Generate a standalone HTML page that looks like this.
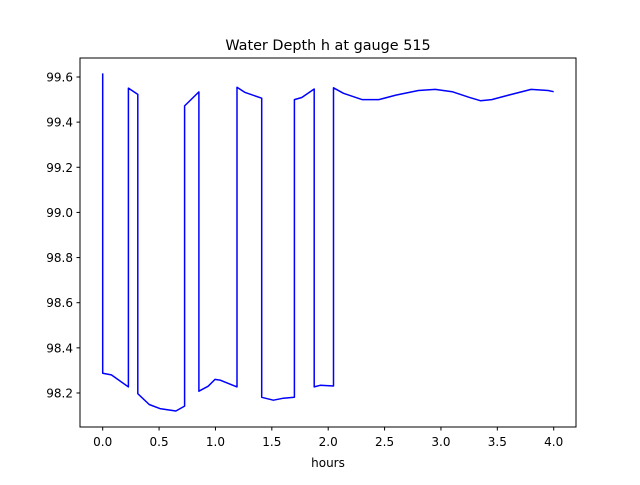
<!DOCTYPE html>
<html><head><meta charset="utf-8"><style>
body{margin:0;background:#fff;}
svg text{font-family:"DejaVu Sans","Liberation Sans",sans-serif;fill:#000;}
</style></head><body>
<svg id="chart" width="640" height="480" xmlns="http://www.w3.org/2000/svg">
<rect width="640" height="480" fill="#fff"/>
<text x="328" y="50" font-size="14.4" text-anchor="middle">Water Depth h at gauge 515</text>
<g id="xt"></g>
<g id="yt"></g>
<path id="line" fill="none" stroke="#0000ff" stroke-width="1.5" stroke-linejoin="round"/>
<rect x="80" y="58" width="496" height="369" fill="none" stroke="#000" stroke-width="1"/>
<text x="328" y="467" font-size="12" text-anchor="middle">hours</text>
</svg>
<script>
const xs=[0,0,0.077,0.228,0.228,0.311,0.311,0.412,0.507,0.649,0.726,0.726,0.853,0.853,0.936,0.996,1.040,1.191,1.191,1.259,1.410,1.410,1.514,1.603,1.700,1.700,1.766,1.876,1.876,1.929,2.047,2.047,2.136,2.3,2.45,2.6,2.8,2.95,3.1,3.25,3.35,3.45,3.6,3.8,3.95,4.0];
const ys=[99.616,98.287,98.280,98.227,99.551,99.523,98.197,98.149,98.131,98.120,98.142,99.472,99.534,98.208,98.230,98.260,98.257,98.227,99.555,99.532,99.506,98.181,98.168,98.177,98.181,99.500,99.509,99.547,98.227,98.234,98.231,99.552,99.528,99.5,99.5,99.52,99.54,99.545,99.535,99.51,99.495,99.5,99.52,99.545,99.54,99.535];
const xTicks=[0,0.5,1,1.5,2,2.5,3,3.5,4];
const yTicks=[98.2,98.4,98.6,98.8,99.0,99.2,99.4,99.6];
const X=v=>102.7+v*112.75;
const Y=v=>77-(v-99.6)*225.7;
const NS="http://www.w3.org/2000/svg";
const xt=document.getElementById('xt'),yt=document.getElementById('yt');
xTicks.forEach(t=>{
 const l=document.createElementNS(NS,'line');
 
 
 l.setAttribute('x1',X(t));l.setAttribute('x2',X(t));l.setAttribute('y1',427);l.setAttribute('y2',430.5);l.setAttribute('stroke','#000');
 xt.appendChild(l);
 const s=document.createElementNS(NS,'text');
 
 
 s.setAttribute('x',X(t));s.setAttribute('y',446);s.setAttribute('font-size','12');s.setAttribute('text-anchor','middle');
 s.textContent=t.toFixed(1);xt.appendChild(s);
});
yTicks.forEach(t=>{
 const l=document.createElementNS(NS,'line');
 
 
 l.setAttribute('x1',76.5);l.setAttribute('x2',80);l.setAttribute('y1',Y(t));l.setAttribute('y2',Y(t));l.setAttribute('stroke','#000');
 yt.appendChild(l);
 const s=document.createElementNS(NS,'text');
 
 
 s.setAttribute('x',73);s.setAttribute('y',Y(t)+4.5);s.setAttribute('font-size','12');s.setAttribute('text-anchor','end');
 s.textContent=t.toFixed(1);yt.appendChild(s);
});
document.getElementById('line').setAttribute('d',xs.map((x,i)=>(i?'L':'M')+X(x).toFixed(1)+','+Y(ys[i]).toFixed(1)).join(''));
</script>
</body></html>
